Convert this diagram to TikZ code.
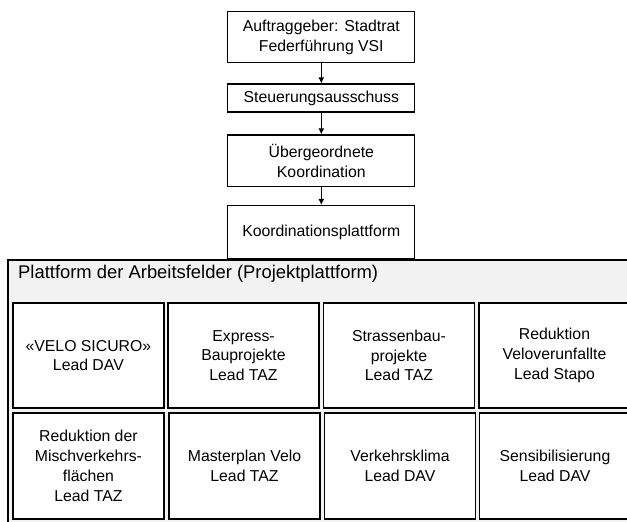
\documentclass[tikz,border=0pt]{standalone}
\usepackage{fontspec}
\setmainfont{Liberation Sans}
\usetikzlibrary{arrows.meta}
\newcommand{\boxfont}{\fontsize{15.8}{19.8}\selectfont}
\newcommand{\titlefont}{\fontsize{18.4}{22}\selectfont}
\tikzset{
  topbox/.style={draw=black, line width=1.3pt, fill=white, minimum width=187pt, align=center, font=\boxfont, inner sep=0pt},
  cell/.style={draw=black, line width=1.3pt, fill=white, minimum width=151pt, minimum height=105pt, align=center, font=\boxfont, inner sep=0pt},
  platbox/.style={draw=black, line width=1.6pt, fill=black!5, minimum width=640pt, minimum height=280pt, inner sep=0pt, anchor=north west},
  arr/.style={line width=0.9pt, -{Latex[length=6pt,width=6pt]}}
}
\begin{document}
\begin{tikzpicture}[x=1pt,y=-1pt]
\useasboundingbox (0,0) rectangle (627,522);
\clip (0,0) rectangle (627,522);
\fill[white] (0,0) rectangle (627,522);
% platform
\node[platbox] (plat) at (7,259) {};
\node[anchor=west, font=\titlefont, inner sep=0pt] (title) at (18,274) {Plattform der Arbeitsfelder (Projektplattform)};
% top chain
\node[topbox, minimum height=51pt] (b1) at (321.3,37.2) {Auftraggeber: Stadtrat\\Federführung VSI};
\node[topbox, minimum height=28pt] (b2) at (321.3,98) {Steuerungsausschuss};
\node[topbox, minimum height=51.7pt] (b3) at (321.3,160.8) {Übergeordnete\\Koordination};
\node[topbox, minimum height=53pt] (b4) at (321.3,232) {Koordinationsplattform};
\draw[arr] (b1) -- (b2);
\draw[arr] (b2) -- (b3);
\draw[arr] (b3) -- (b4);
% cells row 1
\node[cell] (c11) at (88.4,355.5) {«VELO SICURO»\\Lead DAV};
\node[cell] (c12) at (243.5,355.5) {Express-\\Bauprojekte\\Lead TAZ};
\node[cell] (c13) at (399,355.5) {Strassenbau-\\projekte\\Lead TAZ};
\node[cell] (c14) at (554.5,355.5) {Reduktion\\Veloverunfallte\\Lead Stapo};
% cells row 2
\node[cell, minimum height=106pt] (c21) at (88.4,466) {Reduktion der\\Mischverkehrs-\\flächen\\Lead TAZ};
\node[cell, minimum height=106pt] (c22) at (244.5,466) {Masterplan Velo\\Lead TAZ};
\node[cell, minimum height=106pt] (c23) at (400,466) {Verkehrsklima\\Lead DAV};
\node[cell, minimum height=106pt] (c24) at (555,466) {Sensibilisierung\\Lead DAV};
\end{tikzpicture}
\end{document}
